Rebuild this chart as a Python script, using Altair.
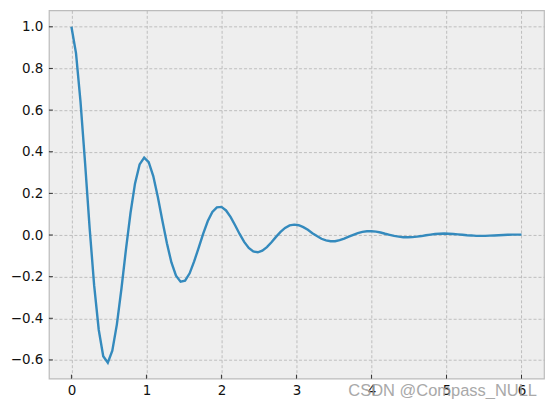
import altair as alt
import pandas as pd

t_vals = [0.000, 0.061, 0.121, 0.182, 0.242, 0.303, 0.364, 0.424, 0.485, 0.545,
          0.606, 0.667, 0.727, 0.788, 0.848, 0.909, 0.970, 1.030, 1.091, 1.152,
          1.212, 1.273, 1.333, 1.394, 1.455, 1.515, 1.576, 1.636, 1.697, 1.758,
          1.818, 1.879, 1.939, 2.000, 2.061, 2.121, 2.182, 2.242, 2.303, 2.364,
          2.424, 2.485, 2.545, 2.606, 2.667, 2.727, 2.788, 2.848, 2.909, 2.970,
          3.030, 3.091, 3.152, 3.212, 3.273, 3.333, 3.394, 3.455, 3.515, 3.576,
          3.636, 3.697, 3.758, 3.818, 3.879, 3.939, 4.000, 4.061, 4.121, 4.182,
          4.242, 4.303, 4.364, 4.424, 4.485, 4.545, 4.606, 4.667, 4.727, 4.788,
          4.848, 4.909, 4.970, 5.030, 5.091, 5.152, 5.212, 5.273, 5.333, 5.394,
          5.455, 5.515, 5.576, 5.636, 5.697, 5.758, 5.818, 5.879, 5.939, 6.000]

y_vals = [1.000, 0.874, 0.641, 0.346, 0.037, -0.242, -0.455, -0.582, -0.613, -0.556,
          -0.429, -0.257, -0.069, 0.107, 0.248, 0.339, 0.372, 0.350, 0.283, 0.183,
          0.070, -0.040, -0.132, -0.195, -0.224, -0.219, -0.184, -0.127, -0.060, 0.008,
          0.067, 0.111, 0.133, 0.135, 0.118, 0.087, 0.047, 0.005, -0.033, -0.062,
          -0.079, -0.083, -0.075, -0.058, -0.035, -0.009, 0.015, 0.034, 0.046, 0.050,
          0.047, 0.038, 0.025, 0.009, -0.005, -0.018, -0.026, -0.030, -0.030, -0.025,
          -0.017, -0.008, 0.001, 0.009, 0.015, 0.018, 0.018, 0.016, 0.012, 0.006,
          0.001, -0.004, -0.008, -0.011, -0.011, -0.010, -0.008, -0.005, -0.001, 0.002,
          0.005, 0.006, 0.007, 0.006, 0.005, 0.003, 0.001, -0.001, -0.002, -0.004,
          -0.004, -0.004, -0.003, -0.002, -0.001, 0.000, 0.001, 0.002, 0.002, 0.002]

x_ticks = [0, 1, 2, 3, 4, 5, 6]
y_ticks = [-0.6, -0.4, -0.2, 0.0, 0.2, 0.4, 0.6, 0.8, 1.0]
watermark = "CSDN @Compass_NULL"

W, H = 496, 369
x_dom = [-0.3, 6.3]
y_dom = [-0.690, 1.079]

df = pd.DataFrame({"t": t_vals, "y": y_vals})
xt = pd.DataFrame({"v": x_ticks})
yt = pd.DataFrame({"v": y_ticks})

xscale = alt.Scale(domain=x_dom, nice=False, zero=False)
yscale = alt.Scale(domain=y_dom, nice=False, zero=False)

line = alt.Chart(df).mark_line(color="#348ABD", strokeWidth=2.4, clip=True).encode(
    x=alt.X("t:Q", scale=xscale,
            axis=alt.Axis(values=x_ticks, format="d", title=None, labelPadding=5)),
    y=alt.Y("y:Q", scale=yscale,
            axis=alt.Axis(values=y_ticks, format=".1f", title=None, labelPadding=6)),
)

xtick_marks = alt.Chart(xt).mark_rule(color="#222222", strokeWidth=0.9).encode(
    x=alt.X("v:Q", scale=xscale),
    y=alt.value(H - 4),
    y2=alt.value(H),
)
ytick_marks = alt.Chart(yt).mark_rule(color="#222222", strokeWidth=0.9).encode(
    y=alt.Y("v:Q", scale=yscale),
    x=alt.value(0),
    x2=alt.value(4),
)

wm = alt.Chart(pd.DataFrame({"s": [watermark]})).mark_text(
    font="Liberation Sans", fontSize=16.5, color="#a0a0a0", align="left",
    baseline="alphabetic", opacity=0.9,
).encode(text="s:N", x=alt.value(300), y=alt.value(H + 17.7))

chart = alt.layer(line, xtick_marks, ytick_marks, wm).properties(
    width=W, height=H,
    autosize=alt.AutoSizeParams(type="none"),
    padding={"left": 41, "top": 2, "right": 2, "bottom": 20},
).configure_view(
    fill="#eeeeee", stroke="#bcbcbc", strokeWidth=1.2
).configure_axis(
    domain=False, ticks=False, grid=True, gridColor="#b2b2b2", gridDash=[3, 2],
    gridWidth=0.8, labelFont="DejaVu Sans", labelFontSize=13.5, labelColor="#111111",
)

chart.save("out.html", embed_options={"renderer": "svg", "actions": False})
